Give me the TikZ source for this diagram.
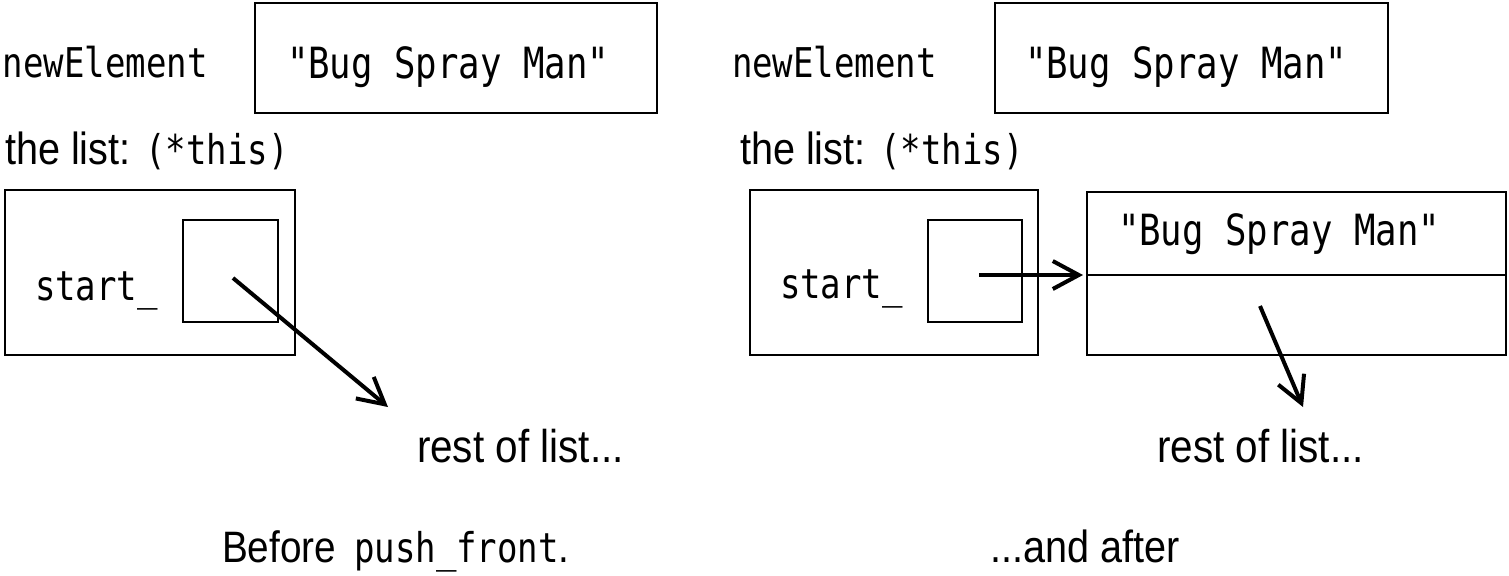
\documentclass[tikz,border=0pt]{standalone}
\usepackage{fontspec}
\setmainfont{Liberation Sans}[FakeStretch=0.88]
\newfontfamily\monof{DejaVu Sans Mono}[FakeStretch=0.83]
\newfontfamily\sansf{Liberation Sans}[FakeStretch=0.88]
\usetikzlibrary{arrows.meta}
\begin{document}
\begin{tikzpicture}[x=0.5pt,y=-0.5pt,
  box/.style={draw,line width=1.35pt,inner sep=0pt,outer sep=0pt},
  lbl/.style={anchor=base west,inner sep=0pt,outer sep=0pt},
  mono/.style={lbl,font=\monof\fontsize{20.5pt}{24pt}\selectfont},
  monob/.style={lbl,font=\monof\fontsize{21.5pt}{25pt}\selectfont},
  sans/.style={lbl,font=\sansf\fontsize{22pt}{26pt}\selectfont},
  thelist/.style={lbl,font=\sansf\fontsize{22.5pt}{26pt}\selectfont},
  ptr/.style={line width=2pt,-{Straight Barb[length=13pt,width=14pt,line width=2pt]}}]
\useasboundingbox (0,0) rectangle (1509,575);
% ---------- left panel ----------
\node[mono] (Lname) at (3,77) {newElement};
\node[box,minimum width=201pt,minimum height=55pt] (Lnew) at (456,58) {};
\node[monob] (Lval) at (287,78) {"Bug Spray Man"};
\node[thelist] (Lthe) at (5,164) {the list: {\monof\fontsize{20.5pt}{25pt}\selectfont(*this)}};
\node[box,minimum width=145pt,minimum height=82.5pt] (Lout) at (150,272.5) {};
\node[box,minimum width=47.5pt,minimum height=51pt] (Lin) at (230.5,271) {};
\node[mono] (Lstart) at (35,300) {start\_};
\coordinate (La) at (233,278);
\coordinate (Lb) at (388,407);
\draw[ptr] (La) -- (Lb);
\node[sans,font=\sansf\fontsize{23pt}{27pt}\selectfont] (Lrest) at (417,462) {rest of list...};
\node[sans] (Lcap) at (222,562) {Before\hspace{9pt}{\monof\fontsize{20.5pt}{24pt}\selectfont push\_front}.};
% ---------- right panel ----------
\node[mono] (Rname) at (732,77) {newElement};
\node[box,minimum width=196.5pt,minimum height=55pt] (Rnew) at (1191.5,58) {};
\node[monob] (Rval) at (1025,78) {"Bug Spray Man"};
\node[thelist] (Rthe) at (740,164) {the list: {\monof\fontsize{20.5pt}{25pt}\selectfont(*this)}};
\node[box,minimum width=144pt,minimum height=82.5pt] (Rout) at (894,272.5) {};
\node[box,minimum width=47pt,minimum height=51pt] (Rin) at (975,271) {};
\node[mono] (Rstart) at (780,298) {start\_};
\node[box,minimum width=209.5pt,minimum height=81.5pt] (Relem) at (1296.5,273.5) {};
\draw[line width=1.35pt] ([yshift=-0.75pt]Relem.west) -- ([yshift=-0.75pt]Relem.east);
\node[monob] (Rval2) at (1118,245) {"Bug Spray Man"};
\coordinate (Ra) at (979,275);
\draw[ptr] (Ra) -- ([xshift=-2pt]Ra -| Relem.west);
\coordinate (Rb) at (1260,306);
\coordinate (Rc) at (1303,407);
\draw[ptr] (Rb) -- (Rc);
\node[sans,font=\sansf\fontsize{23pt}{27pt}\selectfont] (Rrest) at (1157,462) {rest of list...};
\node[sans,font=\sansf\fontsize{22.5pt}{27pt}\selectfont] (Rcap) at (990,562) {...and after};
\end{tikzpicture}
\end{document}
